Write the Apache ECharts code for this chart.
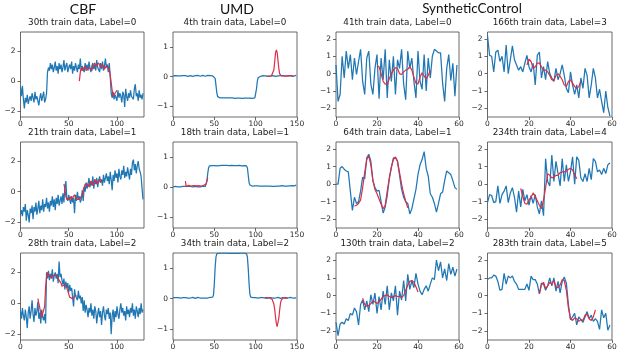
<!DOCTYPE html>
<html>
<head>
<meta charset="utf-8">
<script src="https://cdn.jsdelivr.net/npm/echarts@6/dist/echarts.min.js"></script>
<style>
  html, body { margin: 0; padding: 0; background: #fff; }
  #chart { width: 623px; height: 356px; }
</style>
</head>
<body>
<div id="chart"></div>
<script>
// ---- tick labels ----
const cbfXTicks = [0, 50, 100];
const cbfYTicks = [-2, 0, 2];
const umdXTicks = [0, 50, 100, 150];
const umdYTicks = [-1, 0, 1];
const scXTicks = [0, 20, 40, 60];
const scYTicks = [-2, -1, 0, 1, 2];

// ---- CBF ----
const cbf30 = [-0.4, -1.0, -0.3, -1.2, -1.8, -1.1, -1.4, -0.9, -1.5, -1.2, -1.0, -1.3, -0.8, -1.1, -1.4, -0.7, -1.2, -1.0, -0.9, -1.6, -1.1, -0.8, -1.3, -1.0, -0.7, -1.4, -1.2, -0.8,
  0.6, 0.9, 0.7, 1.2, 0.8, 1.1, 0.6, 0.9, 1.3, 0.7, 1.0, 0.5, 1.2, 0.8, 1.1, 0.6, 0.9, 1.4, 0.7, 1.0, 1.2, 0.6, 0.9, 1.1, 0.8, 1.3, 0.5, 1.0, 0.7, 1.2,
  0.9, 0.6, 1.1, 0.8, 1.5, 0.7, 1.0, 0.9, 0.6, 1.2, 0.8, 1.1, 0.7, 1.3, 0.9, 0.6, 1.0, 1.2, 0.8, 1.1, 0.7, 1.4, 0.9, 1.0, 0.6, 1.2, 0.8, 1.3, 0.7, 1.0, 1.5, 0.9, 1.1, 0.6, 1.2,
  0.3, -0.8, -1.1, -0.7, -1.2, -0.9, -1.0, -1.3, -0.6, -1.1, -0.8, -1.0, -1.4, -0.7, -0.9, -1.7, -0.5, -1.0, -1.3, -0.8, -1.1, -0.6, -1.0, -0.9, -1.2, -0.5, -0.2, -1.0, -0.8, -1.3, -0.6, -1.1, -0.9, -1.2, -0.8];
const cbf30Red = [0.0, 0.6, 0.9, 0.7, 0.6, 0.8, 1.0, 0.7, 0.6, 0.8, 0.9, 1.0, 0.8, 0.7, 1.0, 1.1, 1.2, 1.0, 0.9, 1.1, 1.2, 1.1, 0.9, 1.0, 1.1, 1.0, 0.8, 0.9, 1.0, 1.1, 1.0, 0.8, 0.4, -0.1, -0.6, -1.0, -0.9, -0.8, -0.7, -0.6];
const cbf30RedStart = 61;

const cbf21 = [-1.5, -1.2, -1.6, -1.0, -1.3, -0.8, -1.9, -1.2, -1.5, -2.0, -1.1, -1.4, -0.9, -1.8, -1.0, -1.3, -0.7, -1.5, -1.1, -0.6,
  -1.4, -0.9, -1.2, -0.5, -1.3, -0.8, -1.0, -0.4, -1.1, -0.7, -1.3, -0.6, -0.9, -0.3, -1.0, -0.5, -1.2, -0.4, -0.8, -0.2,
  -0.9, -0.6, -0.3, -0.8, -0.1, -0.7, 0.3, 0.7, -0.4, -0.6, -0.2, -0.5, -0.8, -0.3, -0.7, -0.4, -1.4, -0.2, -0.6, 0.0,
  -0.5, -0.3, -0.7, -0.5, 0.1, -0.6, 0.3, 0.0, 0.6, 0.2, 0.5, 0.9, 0.3, 0.7, 0.4, 1.0, 0.2, 0.8, 0.5, 0.9,
  0.3, 0.7, 1.0, 0.6, 0.8, 0.4, 1.1, 0.6, 0.9, 1.2, 0.7, 1.0, 0.5, 1.3, 0.8, 0.1, 1.1, 0.7, 1.4, 0.9,
  1.2, 0.6, 1.5, 1.0, 0.8, 1.4, 1.1, 1.7, 0.9, 1.3, 1.0, 1.6, 1.2, 0.8, 1.5, 1.1, 1.9, 2.1, 1.4, 1.8,
  1.2, 1.7, 2.0, 1.5, 1.3, 1.0, 0.2, -0.5];
const cbf21Red = [0.5, 0.2, -0.3, -0.5, -0.4, -0.6, -0.5, -0.3, -0.5, -0.6, -0.4, -0.2, -0.3, -0.5, -0.6, -0.4, -0.5, -0.6, -0.4, -0.2,
  0.1, 0.3, 0.5, 0.4, 0.6, 0.5, 0.3, 0.5, 0.7, 0.6, 0.4, 0.6, 0.8, 0.7, 0.5, 0.6, 0.8, 0.7, 0.6, 0.8];
const cbf21RedStart = 45;

const cbf28 = [-0.5, -1.0, -0.3, -0.8, -1.1, -0.4, -0.9, -1.6, -0.6, -0.2, -1.0, -0.5, 0.2, -0.7, -1.2, -0.3, -0.8, -0.5, 0.1, -1.0,
  -0.6, -1.3, -0.4, -0.9, -1.1, -0.7, -1.3, 2.0, 1.6, 2.1, 1.5, 1.9, 1.7, 2.2, 1.4, 1.8, 2.0, 1.6, 1.9, 1.3,
  2.7, 1.7, 1.9, 1.5, 1.2, 1.6, 0.9, 1.4, 1.0, 1.3, 0.7, 1.2, 0.8, 1.0, 0.4, -0.2, 0.9, 0.5, 0.6, 0.2,
  0.8, 0.3, 0.5, 0.0, 0.4, -0.5, 0.2, -0.6, -0.1, -0.4, -0.9, -0.3, -0.6, 0.0, -0.8, -0.4, -1.0, -0.2, -0.5, -1.3,
  -0.7, -0.3, -0.9, -0.5, -1.4, -0.6, -0.2, -0.8, -1.1, -0.4, -0.7, -0.3, -1.0, -0.6, -2.0, -0.8, -0.4, -1.2, -0.5, -0.9,
  -0.2, -0.7, -1.0, -0.4, 0.0, -0.6, -0.3, -0.8, -0.5, -1.1, -0.2, -0.7, -0.4, -0.9, -0.3, -0.6, 0.0, -0.8, -0.4, -1.0,
  -0.2, -0.5, -0.9, -0.3, -0.7, 0.0, -0.6, -0.4];
const cbf28Red = [0.3, 0.0, -0.3, -0.7, -0.9, -1.0, -0.8, -0.2, 1.0, 1.7, 2.0, 1.9, 1.8, 1.7, 1.6, 1.7, 1.8, 1.7, 1.7, 1.8,
  1.9, 1.7, 1.5, 1.4, 1.3, 1.1, 1.0, 1.1, 1.2, 1.1, 1.0, 0.8, 0.6, 0.4, 0.3, 0.3, 0.3, 0.4, 0.4, 0.5, 0.5];
const cbf28RedStart = 18;

// ---- UMD ----
const umd4 = [0.02, 0.03, 0.01, 0.03, 0.02, 0.04, 0.02, 0.01, 0.03, 0.02, 0.04, 0.02, 0.03, 0.01, 0.02, 0.03, 0.04, 0.02, 0.01, 0.03,
  0.02, 0.03, 0.02, 0.04, 0.01, 0.03, 0.02, 0.03, 0.01, 0.02, 0.04, 0.03, 0.02, 0.01, 0.03, 0.02, 0.04, 0.02, 0.03, 0.01,
  0.03, 0.02, 0.04, 0.02, 0.01, 0.03, 0.02, 0.03, 0.02, 0.01,
  0.0, -0.06, -0.3, -0.55, -0.68, -0.72, -0.73, -0.72, -0.74, -0.73,
  -0.72, -0.73, -0.74, -0.72, -0.73, -0.73, -0.72, -0.74, -0.73, -0.72, -0.73, -0.74, -0.72, -0.73, -0.72, -0.74, -0.73, -0.72, -0.73, -0.74,
  -0.72, -0.73, -0.73, -0.72, -0.74, -0.73, -0.72, -0.73, -0.74, -0.72, -0.73, -0.72, -0.74, -0.73, -0.72, -0.73, -0.74, -0.72, -0.73, -0.72,
  -0.66, -0.42, -0.16, -0.04, 0.0, 0.02, 0.01, 0.03, 0.02, 0.03,
  0.01, 0.03, 0.02, 0.02, 0.03, 0.01, 0.02, 0.03, 0.02, 0.04, 0.02, 0.03, 0.02, 0.03, 0.01, 0.02, 0.03, 0.02, 0.04, 0.02,
  0.03, 0.01, 0.02, 0.03, 0.02, 0.04, 0.02, 0.03, 0.01, 0.02, 0.03, 0.02, 0.03, 0.04, 0.02, 0.01, 0.03, 0.02, 0.03, 0.04];
const umd4Red = [0.02, 0.03, 0.02, 0.01, 0.03, 0.02, 0.02, 0.03, 0.08, 0.22, 0.5, 0.8, 0.9, 0.82, 0.55, 0.28, 0.1, 0.04, 0.02, 0.03,
  0.01, 0.02, 0.03, 0.02, 0.01, 0.03, 0.02, 0.03, 0.02, 0.01, 0.03, 0.02, 0.03, 0.02];
const umd4RedStart = 113;

const umd18 = [0.01, 0.02, 0.0, 0.02, 0.01, 0.03, 0.01, 0.0, 0.02, 0.01, 0.03, 0.01, 0.02, 0.0, 0.01, 0.02, 0.01, 0.03, 0.02, 0.0,
  0.01, 0.02, 0.01, 0.03, 0.01, 0.02, 0.0, 0.02, 0.01, 0.03, 0.01, 0.02, 0.0, 0.01, 0.02, 0.01, 0.03, 0.02, 0.01, 0.02,
  0.05, 0.2, 0.45, 0.64, 0.71, 0.72, 0.73, 0.72, 0.71, 0.73,
  0.72, 0.73, 0.72, 0.71, 0.72, 0.73, 0.72, 0.72, 0.71, 0.73, 0.72, 0.72, 0.73, 0.71, 0.72, 0.73, 0.72, 0.71, 0.72, 0.73,
  0.72, 0.73, 0.72, 0.71, 0.72, 0.72, 0.73, 0.72, 0.71, 0.72, 0.73, 0.72, 0.72, 0.71, 0.73, 0.72, 0.72, 0.73, 0.72, 0.71,
  0.64, 0.4, 0.16, 0.07, 0.05, 0.04, 0.03, 0.05, 0.03, 0.04,
  0.03, 0.02, 0.04, 0.03, 0.05, 0.03, 0.02, 0.04, 0.03, 0.02, 0.04, 0.03, 0.05, 0.02, 0.03, 0.04, 0.02, 0.03, 0.05, 0.03,
  0.02, 0.04, 0.03, 0.02, 0.04, 0.05, 0.03, 0.02, 0.04, 0.03, 0.02, 0.03, 0.05, 0.04, 0.02, 0.03, 0.04, 0.02, 0.03, 0.05,
  0.03, 0.04, 0.02, 0.03, 0.05, 0.04, 0.03, 0.04, 0.06, 0.07];
const umd18Red = [0.2, 0.01, 0.05, 0.03, 0.06, 0.04, 0.05, 0.03, 0.07, 0.04, 0.05, 0.03, 0.06, 0.04, 0.05, 0.03, 0.05, 0.04, 0.06, 0.03,
  0.05, 0.04, 0.06, 0.04, 0.05, 0.1, 0.2, 0.32];
const umd18RedStart = 15;

const umd34 = [0.03, 0.02, 0.04, 0.03, 0.02, 0.04, 0.03, 0.01, 0.03, 0.02, 0.04, 0.02, 0.03, 0.01, 0.02, 0.03, 0.02, 0.04, 0.02, 0.03,
  0.01, 0.02, 0.03, 0.02, 0.04, 0.03, 0.02, 0.01, 0.03, 0.02, 0.04, 0.02, 0.03, 0.02, 0.01, 0.03, 0.02, 0.04, 0.03, 0.02,
  0.03, 0.01, 0.02, 0.03, 0.02, 0.04, 0.03, 0.04, 0.05,
  0.12, 0.5, 1.05, 1.38, 1.48, 1.5,
  1.5, 1.51, 1.5, 1.5, 1.51, 1.5, 1.5, 1.51, 1.5, 1.5, 1.51, 1.5, 1.5, 1.5, 1.51, 1.5, 1.5, 1.51, 1.5, 1.5,
  1.5, 1.51, 1.5, 1.5, 1.51, 1.5, 1.5, 1.5, 1.51, 1.5, 1.5, 1.51, 1.5, 1.5,
  1.48, 1.38, 1.0, 0.5, 0.15, 0.05, 0.03,
  0.02, 0.03, 0.02, 0.01, 0.03, 0.02, 0.03, 0.02, 0.04, 0.02, 0.03, 0.01, 0.02, 0.03, 0.02, 0.03, 0.02, 0.04, 0.03, 0.02,
  0.01, 0.02, 0.03, 0.02, 0.03, 0.02, 0.01, 0.03, 0.02, 0.03, 0.02, 0.04, 0.03, 0.02, 0.01, 0.03, 0.02, 0.03, 0.02, 0.04,
  0.02, 0.03, 0.01, 0.02, 0.03, 0.02, 0.04, 0.02, 0.03, 0.02, 0.03, 0.04, 0.02, 0.03];
const umd34Red = [0.03, 0.02, 0.04, 0.03, 0.02, 0.03, 0.02, 0.01, 0.0, -0.03, -0.08, -0.18, -0.35, -0.6, -0.82, -0.93, -0.88, -0.65, -0.38, -0.16,
  -0.05, 0.0, 0.02, 0.03, 0.02, 0.03, 0.04, 0.03, 0.02];
const umd34RedStart = 111;

// ---- SyntheticControl ----
const sc41 = [0.5, -1.6, -1.2, 1.0, -0.25, 1.3, 0.3, 1.1, -0.35, 0.9, -0.05, 0.7, 1.4, -0.45, -1.2, 0.9, 1.3, -0.6, -1.2, 0.3,
  1.1, -1.45, 0.9, -0.35, 1.4, -1.4, 0.8, -0.45, 1.0, -1.2, 0.8, 0.3, 1.4, -0.6, -1.5, 1.3, 0.3, 0.9, -0.45, -1.4,
  1.3, -0.45, -0.9, 1.1, -1.0, 0.9, -0.25, 1.0, 1.4, 1.3, 1.2, 1.2, -0.55, -1.6, 0.3, 1.1, -0.4, 0.6, -1.3, 0.5];
const sc41Red = [0.45, 0.4, 0.0, -0.45, -0.6, -0.6, -0.3, 0.0, 0.2, 0.35, 0.3, 0.0, -0.05, 0.1, 0.2, 0.25, 0.4, 0.2, -0.2, -0.55,
  -0.6, -0.2, 0.05, -0.15, -0.3, -0.1, 0.2];
const sc41RedStart = 20;

const sc166 = [2.2, 1.05, 1.0, 0.1, 1.25, 1.35, 0.7, 1.0, 0.1, 1.65, 0.0, 0.8, 1.6, 0.8, 0.5, 0.2, 0.4, 0.1, 0.6, 1.05,
  0.4, 0.1, 0.6, -0.65, 1.05, 1.25, -0.25, 0.4, -0.35, 0.7, 0.0, -0.25, -0.45, 0.3, -0.35, 0.0, 0.5, -0.1, -0.85, -1.1,
  0.1, -0.65, -1.2, -0.65, -1.4, -0.25, -0.85, 0.3, -0.1, -1.4, -0.65, 0.3, -0.25, -1.4, -0.9, -1.6, -2.25, -1.0, -1.95, -2.45];
const sc166Red = [0.5, 0.83, 0.7, 0.3, 0.4, 0.6, 0.62, 0.4, 0.2, 0.2, 0.1, -0.1, -0.35, -0.4, -0.1, 0.0, -0.15, -0.35, -0.65, -0.75,
  -0.45, -0.35, -0.55, -0.75, -0.85, -0.75, -0.45];
const sc166RedStart = 19;

const sc64 = [0.0, 0.0, 0.9, 1.0, 0.85, 0.75, 0.7, -0.4, -1.5, -0.75, -1.1, -1.0, -0.4, 0.4, 0.3, 1.5, 1.7, 1.3, 0.2, -0.2,
  -0.4, -0.35, -1.0, -1.65, -1.3, -0.65, 0.3, 0.95, 1.5, 1.5, 1.3, 0.5, -0.3, -0.75, -1.0, -1.1, -1.7, -1.4, -0.85, -0.3,
  0.55, 1.1, 1.4, 1.85, 0.9, 0.45, -0.55, -0.75, -1.1, -1.6, -1.1, -0.55, -0.45, 0.2, 0.75, 0.65, 0.55, 0.2, -0.2, -0.3];
const sc64Red = [-1.25, -1.2, -1.1, -0.9, -0.2, 0.65, 1.4, 1.6, 1.1, 0.2, -0.3, -0.55, -0.85, -1.15, -1.4, -1.2, -0.4, 0.35, 0.95, 1.4,
  1.55, 1.3, 0.65, 0.0, -0.55, -0.95, -1.35];
const sc64RedStart = 9;

const sc234 = [-1.05, -0.6, -0.65, -1.05, -1.0, -0.1, -1.1, -0.6, -0.4, -0.1, -1.05, -0.5, -0.2, -0.75, -1.6, -0.4, -1.3, -0.3, -0.95, -0.6,
  -1.2, -0.65, -1.1, -0.6, -1.3, -1.7, -0.95, -1.8, 1.45, 0.15, -0.1, 1.65, 0.15, 1.3, 0.6, -0.1, 1.45, 0.15, 1.1, 0.15,
  0.7, 1.55, 0.0, 1.55, 1.35, 0.35, 0.15, 0.6, 0.15, 0.9, 0.25, 1.45, 1.3, 0.7, 0.8, 0.55, 0.9, 0.6, 1.1, 1.2];
const sc234Red = [-0.25, -0.7, -1.1, -1.15, -0.9, -0.75, -0.5, -0.7, -0.95, -1.2, -1.4, -0.9, -0.2, 0.6, 0.5, 0.35, 0.4, 0.5, 0.5, 0.65,
  0.7, 0.7, 0.75, 0.85, 0.9, 0.8, 0.55, 0.3];
const sc234RedStart = 16;

const sc130 = [-1.5, -2.25, -1.6, -1.5, -1.6, -1.3, -1.4, -1.0, -1.1, -0.7, -0.9, -1.65, -0.5, -0.25, -0.8, -0.3, -0.9, 0.05, -0.5, 0.15,
  -1.0, -0.05, -0.8, 0.25, -0.5, 0.55, -0.8, 0.15, -0.3, 0.55, -1.1, 0.25, -0.25, 0.85, -0.3, 1.2, 0.35, 0.85, 0.45, 1.25,
  0.65, 0.25, 0.05, 0.35, 0.55, 0.25, 0.65, 1.0, 0.9, 2.0, 1.4, 1.9, 1.0, 1.5, 0.85, 1.8, 1.2, 1.6, 1.1, 1.5];
const sc130Red = [-0.15, -0.5, -0.6, -0.55, -0.45, -0.3, -0.35, -0.45, -0.35, -0.2, -0.05, 0.0, 0.05, -0.05, -0.1, -0.05, 0.0, -0.05, -0.05, -0.1,
  0.0, 0.3, 0.6, 0.8, 0.85, 0.75, 0.5, 0.2];
const sc130RedStart = 13;

const sc283 = [0.9, 1.0, 1.0, 1.15, 1.1, 0.8, 0.3, 0.35, 1.25, 0.65, 1.1, 1.0, 1.1, 0.8, 0.65, 0.35, 0.35, 0.35, 0.35, 0.65,
  0.3, 1.1, 0.9, 0.9, 0.65, 0.1, 0.7, 0.65, 0.3, 0.55, 1.0, 0.55, 1.0, 0.25, 0.8, 0.15, 0.8, 1.05, 0.7, -0.5,
  -1.35, -1.2, -1.0, -1.65, -1.2, -1.35, -1.5, -1.2, -0.9, -1.3, -1.1, -1.45, -1.3, -1.45, -1.9, -0.8, -1.25, -1.0, -1.95, -1.65];
const sc283Red = [0.1, 0.6, 0.75, 0.4, 0.55, 0.75, 0.65, 0.85, 0.5, 0.45, 0.6, 0.9, 0.85, 0.3, -0.7, -1.3, -1.4, -1.25, -1.3, -1.45,
  -1.35, -1.4, -1.1, -1.05, -1.3, -1.4, -1.2, -0.8];
const sc283RedStart = 25;

// ---- layout ----
const colLeft = [20.5, 173, 336, 487.5];
const colWidth = [123.5, 124, 123, 124.5];
const rowTop = [32, 142, 253];
const rowHeight = [85, 86, 87];

const kinds = {
  cbf: { xMax: 128, yMin: -2.37, yMax: 3.25, xTicks: cbfXTicks, yTicks: cbfYTicks },
  umd: { xMax: 150, yMin: -1.37, yMax: 1.51, xTicks: umdXTicks, yTicks: umdYTicks },
  sc: { xMax: 60, yMin: -2.5, yMax: 2.4, xTicks: scXTicks, yTicks: scYTicks }
};

const panels = [
  { title: '30th train data, Label=0', kind: 'cbf', blue: cbf30, red: cbf30Red, start: cbf30RedStart, col: 0, row: 0 },
  { title: '21th train data, Label=1', kind: 'cbf', blue: cbf21, red: cbf21Red, start: cbf21RedStart, col: 0, row: 1 },
  { title: '28th train data, Label=2', kind: 'cbf', blue: cbf28, red: cbf28Red, start: cbf28RedStart, col: 0, row: 2 },
  { title: '4th train data, Label=0', kind: 'umd', blue: umd4, red: umd4Red, start: umd4RedStart, col: 1, row: 0 },
  { title: '18th train data, Label=1', kind: 'umd', blue: umd18, red: umd18Red, start: umd18RedStart, col: 1, row: 1 },
  { title: '34th train data, Label=2', kind: 'umd', blue: umd34, red: umd34Red, start: umd34RedStart, col: 1, row: 2 },
  { title: '41th train data, Label=0', kind: 'sc', blue: sc41, red: sc41Red, start: sc41RedStart, col: 2, row: 0 },
  { title: '64th train data, Label=1', kind: 'sc', blue: sc64, red: sc64Red, start: sc64RedStart, col: 2, row: 1 },
  { title: '130th train data, Label=2', kind: 'sc', blue: sc130, red: sc130Red, start: sc130RedStart, col: 2, row: 2 },
  { title: '166th train data, Label=3', kind: 'sc', blue: sc166, red: sc166Red, start: sc166RedStart, col: 3, row: 0 },
  { title: '234th train data, Label=4', kind: 'sc', blue: sc234, red: sc234Red, start: sc234RedStart, col: 3, row: 1 },
  { title: '283th train data, Label=5', kind: 'sc', blue: sc283, red: sc283Red, start: sc283RedStart, col: 3, row: 2 }
];

const BLUE = '#1f77b4';
const RED = '#dc2d45';
const tickFont = { fontFamily: 'DejaVu Sans', fontSize: 7.5, color: '#262626' };
const headFont = { fontFamily: 'Lato', fontSize: 14, fontWeight: 'normal', color: '#111' };

const grids = [], xAxes = [], yAxes = [], series = [];
const titles = [
  { text: 'CBF', left: 83, top: 2, textAlign: 'center', padding: 0, textStyle: headFont },
  { text: 'UMD', left: 237, top: 2, textAlign: 'center', padding: 0, textStyle: headFont },
  { text: 'SyntheticControl', left: 472, top: 2, textAlign: 'center', padding: 0, textStyle: { ...headFont, fontSize: 13.5 } }
];

panels.forEach((p, i) => {
  const k = kinds[p.kind];
  const left = colLeft[p.col], top = rowTop[p.row];
  const w = colWidth[p.col], h = rowHeight[p.row];
  grids.push({ left: left, top: top, width: w, height: h, show: true, borderColor: '#444', borderWidth: 0.8, containLabel: false });
  xAxes.push({
    type: 'value', gridIndex: i, min: 0, max: k.xMax, position: 'bottom',
    axisLine: { show: false, onZero: false },
    splitLine: { show: false },
    axisTick: { show: true, length: 3, lineStyle: { color: '#444', width: 0.8 }, customValues: k.xTicks },
    axisLabel: { ...tickFont, margin: 3, customValues: k.xTicks }
  });
  yAxes.push({
    type: 'value', gridIndex: i, min: k.yMin, max: k.yMax, position: 'left',
    axisLine: { show: false, onZero: false },
    splitLine: { show: false },
    axisTick: { show: true, length: 3, lineStyle: { color: '#444', width: 0.8 }, customValues: k.yTicks },
    axisLabel: { ...tickFont, margin: 5, customValues: k.yTicks, formatter: v => (v < 0 ? '\u2212' + Math.abs(v) : String(v)) }
  });
  series.push({
    type: 'line', xAxisIndex: i, yAxisIndex: i, showSymbol: false, silent: true,
    lineStyle: { color: BLUE, width: 1.25 },
    data: p.blue.map((v, j) => [j, v])
  });
  series.push({
    type: 'line', xAxisIndex: i, yAxisIndex: i, showSymbol: false, silent: true, z: 3,
    lineStyle: { color: RED, width: 1.2 },
    data: p.red.map((v, j) => [p.start + j, v])
  });
  titles.push({
    text: p.title, left: left + w / 2, top: top - 14, textAlign: 'center', padding: 0,
    textStyle: { fontFamily: 'DejaVu Sans', fontSize: 8.8, fontWeight: 'normal', color: '#222' }
  });
});

const chart = echarts.init(document.getElementById('chart'), null, { renderer: 'canvas' });
chart.setOption({
  animation: false,
  backgroundColor: '#fff',
  title: titles,
  grid: grids,
  xAxis: xAxes,
  yAxis: yAxes,
  series: series
});
</script>
</body>
</html>
